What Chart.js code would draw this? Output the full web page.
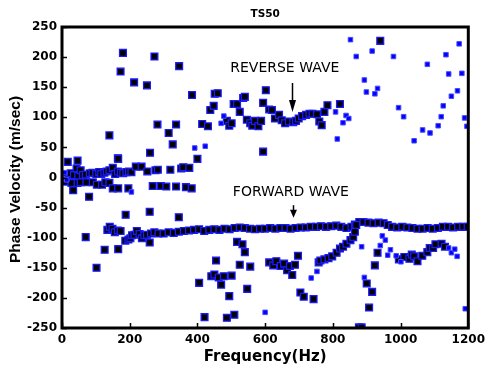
<!DOCTYPE html>
<html>
<head>
<meta charset="utf-8">
<script src="https://cdn.jsdelivr.net/npm/chart.js@4/dist/chart.umd.min.js"></script>
<style>
html,body{margin:0;padding:0;background:#fff;}
#wrap{width:490px;height:369px;position:relative;}
</style>
</head>
<body>
<div id="wrap"><canvas id="c" width="490" height="369"></canvas></div>
<script>
// ---------- data ----------
const chartTitle = "TS50";
const xAxisTitle = "Frequency(Hz)";
const yAxisTitle = "Phase Velocity (m/sec)";
const xTicks = [0, 200, 400, 600, 800, 1000, 1200];
const yTicks = [-250, -200, -150, -100, -50, 0, 50, 100, 150, 200, 250];

// black squares (blue edge)
const nearZeroBlack = [
  [5,2],[9,3],[12,5],[17,26],[24,0],[26,7],[35,4],[43,15],[46,28],[48,3],[55,12],[62,4],[70,5],
  [82,7],[90,8],[101,6],[110,9],[116,6],[125,8],[132,10],[140,12],[150,16],[157,6],[165,10],
  [174,8],[181,7],[190,9],[198,10],[205,9],[218,18],[235,18],[252,10],[276,12],[283,13],
  [320,13],[352,15],[358,17],[376,16],
  [9,-7],[28,-9],[33,-21],[46,-9],[55,-8],[72,-8],[80,-32],[91,-8],[103,-12],[118,-12],
  [128,-8],[140,-9],[150,-18],[166,-18],[196,-18],[268,-14],[292,-14],[308,-15],[337,-15],
  [366,-16],[383,-18]
];
const upperScatterBlack = [
  [180,207],[273,201],[173,176],[213,158],[251,153],[282,88],[140,70],[260,41],[165,32],
  [166,31],[315,74],[327,55],[337,88],[384,137],[400,31],[346,185],[594,43],[940,227]
];
const reverseBlack = [
  [414,89],[431,85],[438,112],[448,119],[451,139],[460,140],[487,94],[494,86],[501,90],
  [507,122],[517,122],[525,109],[535,132],[540,134],[546,96],[556,90],[562,86],[570,94],
  [580,85],[588,94],[594,124],[602,145],[612,113],[620,112],[629,98],[641,104],[649,95],
  [659,90],[670,93],[683,92],[691,94],[699,98],[709,102],[721,104],[731,106],[740,106],
  [753,105],[760,93],[767,87],[775,109],[784,120],[821,122]
];
const forwardBlack = [
  [134,-87],[141,-82],[149,-85],[156,-91],[165,-88],[173,-89],[187,-105],[196,-103],[202,-101],
  [207,-96],[214,-95],[221,-89],[229,-94],[236,-101],[243,-96],[251,-95],[263,-93],[273,-91],
  [285,-93],[300,-93],[315,-91],[330,-92],[345,-90],[360,-89],[375,-88],[390,-87],[405,-86],
  [420,-89],[435,-87],[450,-86],[465,-87],[480,-85],[495,-86],[510,-84],[525,-83],[540,-84],
  [555,-85],[570,-86],[585,-85],[600,-85],[615,-84],[630,-85],[645,-84],[660,-84],[675,-85],
  [690,-84],[705,-83],[720,-83],[735,-82],[750,-82],[765,-81],[780,-82],[795,-81],[810,-80],
  [825,-82],[840,-84],[855,-82],[865,-78],[878,-74],[890,-74],[905,-75],[920,-76],[935,-75],
  [950,-76],[962,-79],[975,-82],[990,-83],[1005,-82],[1020,-83],[1035,-84],[1050,-85],
  [1065,-85],[1080,-84],[1095,-85],[1110,-84],[1125,-82],[1140,-82],[1155,-83],[1170,-82],
  [1185,-82],[1198,-82]
];
const lowerScatterBlack = [
  [188,-62],[259,-57],[345,-66],[70,-99],[102,-150],[126,-120],[166,-119],[259,-108],
  [405,-175],[421,-232],[487,-233],[509,-228],[494,-197],[441,-164],[450,-161],[455,-138],
  [463,-166],[470,-178],[478,-164],[501,-163],[517,-107],[525,-145],[533,-111],[540,-124],
  [547,-185],[556,-148],
  [612,-141],[624,-146],[633,-139],[646,-147],[656,-143],[665,-154],[673,-147],[680,-162],
  [688,-145],[697,-130],[704,-191],[714,-198],[743,-202],[877,-249],
  [758,-141],[763,-138],[775,-136],[787,-134],[798,-131],[811,-125],[821,-118],[830,-115],
  [840,-110],[852,-104],[860,-99],[865,-90],[869,-79],
  [932,-125],[924,-146],[900,-176],[916,-190],[907,-216],[885,-249],[995,-136],[1011,-132],
  [1026,-135],[1033,-128],[1040,-131],[1050,-139],[1064,-130],[1079,-124],[1086,-117],
  [1096,-117],[1103,-111],[1121,-110],[1131,-115]
];
// small blue squares
const blueUpper = [
  [3,-2],[8,8],[14,-4],[205,-24],[392,49],[423,52],[470,90],[478,102],
  [808,109],[813,64],[830,91],[839,103],[847,98],[852,229],[869,201],[893,162],[899,142],
  [916,210],[924,139],[932,148],[979,201],[994,116],[1009,101],[1040,61],[1065,79],
  [1079,188],[1087,74],[1111,86],[1120,101],[1126,119],[1134,204],[1142,172],[1150,135],
  [1168,144],[1173,222],[1181,173],[1189,99],[1196,85]
];
const blueLower = [
  [600,-224],[736,-167],[753,-156],[885,-115],[893,-166],[940,-113],[946,-97],[955,-104],
  [962,-129],[970,-120],[987,-130],[1001,-140],[1142,-117],[1150,-125],[1160,-119],
  [1167,-131],[1191,-218]
];
const annotations = [
  {text: "REVERSE WAVE", x: 658, y: 182, arrowX: 679, arrowFrom: 157, arrowTo: 109, head: 12},
  {text: "FORWARD WAVE", x: 676, y: -24, arrowX: 682, arrowFrom: -46, arrowTo: -67, head: 8}
];

const toXY = a => a.map(p => ({x: p[0], y: p[1]}));
const blackData = toXY([].concat(nearZeroBlack, upperScatterBlack, reverseBlack, forwardBlack, lowerScatterBlack));
const blueData = toXY([].concat(blueUpper, blueLower));

const framePlugin = {
  id: 'frame',
  afterDatasetsDraw(chart) {
    const {ctx, chartArea: a, scales: {x, y}} = chart;
    ctx.save();
    ctx.strokeStyle = '#000';
    // inward ticks
    ctx.lineWidth = 1.5;
    ctx.beginPath();
    yTicks.forEach(v => { const py = Math.round(y.getPixelForValue(v)) + 0.5; ctx.moveTo(a.left, py); ctx.lineTo(a.left + 5, py); });
    xTicks.forEach(v => { const px = Math.round(x.getPixelForValue(v)) + 0.5; ctx.moveTo(px, a.bottom); ctx.lineTo(px, a.bottom - 5); });
    ctx.stroke();
    // box
    ctx.lineWidth = 3;
    ctx.beginPath();
    ctx.moveTo(a.left, a.top); ctx.lineTo(a.right, a.top); ctx.lineTo(a.right, a.bottom);
    ctx.lineTo(a.left, a.bottom); ctx.closePath();
    ctx.stroke();
    // annotations
    ctx.fillStyle = '#000';
    ctx.font = '14px "DejaVu Sans"';
    ctx.textAlign = 'center';
    ctx.textBaseline = 'middle';
    annotations.forEach(an => {
      ctx.fillText(an.text, x.getPixelForValue(an.x), y.getPixelForValue(an.y));
      const ax = Math.round(x.getPixelForValue(an.arrowX)) + 0.5;
      const y0 = y.getPixelForValue(an.arrowFrom), y1 = y.getPixelForValue(an.arrowTo);
      ctx.lineWidth = 1.5;
      ctx.beginPath(); ctx.moveTo(ax, y0); ctx.lineTo(ax, y1 - an.head + 2); ctx.stroke();
      ctx.beginPath(); ctx.moveTo(ax - 3.5, y1 - an.head); ctx.lineTo(ax + 3.5, y1 - an.head); ctx.lineTo(ax, y1); ctx.closePath(); ctx.fill();
    });
    // titles
    ctx.font = 'bold 10.5px "DejaVu Sans"';
    ctx.fillText(chartTitle, (a.left + a.right) / 2, 14);
    ctx.font = 'bold 15px "DejaVu Sans"';
    ctx.fillText(xAxisTitle, (a.left + a.right) / 2, 357);
    ctx.translate(16, (a.top + a.bottom) / 2 + 2);
    ctx.rotate(-Math.PI / 2);
    ctx.font = 'bold 15.5px "Liberation Sans"';
    ctx.fillText(yAxisTitle, 0, 0);
    ctx.restore();
  }
};

new Chart(document.getElementById('c'), {
  type: 'scatter',
  data: {
    datasets: [
      {label: 'blue', data: blueData, pointStyle: 'rect', pointRadius: 3.2, pointBackgroundColor: '#0000ff', pointBorderColor: '#4a4aff', pointBorderWidth: 1, pointHoverRadius: 3.2},
      {label: 'black', data: blackData, pointStyle: 'rect', pointRadius: 4.8, pointBackgroundColor: '#000000', pointBorderColor: '#1a1aff', pointBorderWidth: 1.3, pointHoverRadius: 4.8}
    ]
  },
  options: {
    responsive: false,
    animation: false,
    events: [],
    layout: {autoPadding: false, padding: {left: 0, right: 16, top: 27, bottom: 0}},
    plugins: {legend: {display: false}, title: {display: false}, tooltip: {enabled: false}},
    scales: {
      x: {
        type: 'linear', min: 0, max: 1200,
        afterBuildTicks: s => { s.ticks = xTicks.map(v => ({value: v})); },
        afterFit: s => { s.height = 41; },
        grid: {display: false, drawTicks: false},
        border: {display: false},
        ticks: {padding: 5, color: '#000', font: {family: 'DejaVu Sans', weight: 'bold', size: 12}, maxRotation: 0, autoSkip: false, callback: v => String(v)}
      },
      y: {
        type: 'linear', min: -250, max: 250,
        afterBuildTicks: s => { s.ticks = yTicks.map(v => ({value: v})); },
        afterFit: s => { s.width = 62; },
        grid: {display: false, drawTicks: false},
        border: {display: false},
        ticks: {padding: 5, color: '#000', font: {family: 'DejaVu Sans', weight: 'bold', size: 12}, autoSkip: false, callback: v => String(v)}
      }
    }
  },
  plugins: [framePlugin]
});
</script>
</body>
</html>
